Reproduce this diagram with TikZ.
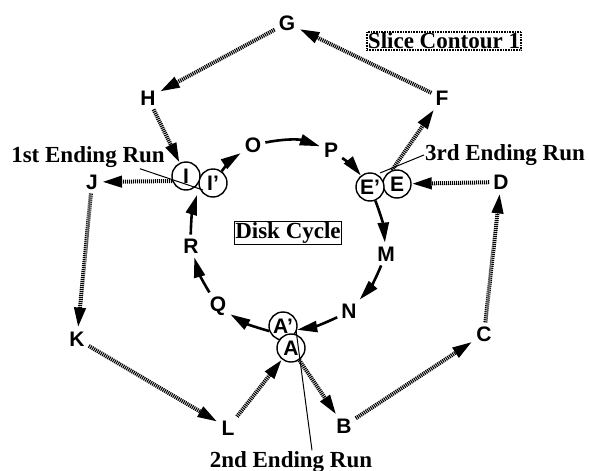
\documentclass[tikz,border=0pt]{standalone}
\usepackage{fontspec}
\setmainfont{Liberation Serif}
\newfontfamily\helvfont{Liberation Sans}
\usetikzlibrary{arrows.meta}

\begin{document}
\begin{tikzpicture}[x=1pt, y=-1pt,
    letter/.style={font=\helvfont\bfseries\fontsize{21}{25}\selectfont, inner sep=4pt},
    ringnode/.style={letter, circle, draw, line width=1.4pt, fill=white, minimum size=28pt, inner sep=0pt},
    runlabel/.style={font=\bfseries\fontsize{23}{27}\selectfont, inner sep=1pt},
    slicearrow/.style={-{Triangle[length=20pt,width=11pt]}, line width=4pt, dash pattern=on 1.1pt off 0.9pt},
    diskarrow/.style={-{Triangle[length=20pt,width=11pt]}, line width=2.6pt},
    pointer/.style={line width=1pt}]
    \useasboundingbox (0,0) rectangle (589,471);
    \node[letter] (G) at (287,23) {G};
    \node[letter] (H) at (148,98) {H};
    \node[letter] (F) at (442,98) {F};
    \node[letter] (J) at (92,182) {J};
    \node[letter] (D) at (501,182) {D};
    \node[letter] (K) at (77,339) {K};
    \node[letter] (C) at (484,334) {C};
    \node[letter] (L) at (228,428) {L};
    \node[letter] (B) at (344,426) {B};
    \node[letter] (O) at (253,145) {O};
    \node[letter] (P) at (331,150) {P};
    \node[letter] (M) at (386,254) {M};
    \node[letter] (N) at (349,311) {N};
    \node[letter] (Q) at (218,306) {Q};
    \node[letter] (R) at (191,246) {R};
    \node[ringnode] (Ip) at (213,183) {I’};
    \node[ringnode] (I) at (186,176) {I};
    \node[ringnode] (E) at (397,184) {E};
    \node[ringnode] (Ep) at (370,187) {E’};
    \node[ringnode] (Ap) at (283,326) {A’};
    \node[ringnode] (A) at (291,348) {A};
    \coordinate (Iknot) at (197,195);
    \node[runlabel, draw, line width=1pt] (disk) at (288,233) {Disk Cycle};
    \node[runlabel, draw, line width=2pt, dash pattern=on 0.8pt off 0.8pt] (slice) at (444,41) {Slice Contour 1};
    \node[runlabel] (run1) at (88,157) {1st Ending Run};
    \node[runlabel] (run3) at (505,155) {3rd Ending Run};
    \node[runlabel] (run2) at (291,462) {2nd Ending Run};
    \draw[slicearrow] (A) -- (B);
    \draw[slicearrow] (B) -- (C);
    \draw[slicearrow] (C) -- (D);
    \draw[slicearrow] (D) -- (E);
    \draw[slicearrow] (E.110) -- (F);
    \draw[slicearrow] (F) -- (G);
    \draw[slicearrow] (G) -- (H);
    \draw[slicearrow] (H) -- (I);
    \draw[slicearrow] (I.200) -- (J);
    \draw[slicearrow] (J) -- (K);
    \draw[slicearrow] (K) -- (L);
    \draw[slicearrow] (L) -- (A);
    \draw[diskarrow] (Ip) to[bend left=10] (O);
    \draw[diskarrow] (O) to[bend left=15] (P);
    \draw[diskarrow] (P) to[bend left=8] (Ep);
    \draw[diskarrow] (Ep) to[bend left=8] (M);
    \draw[diskarrow] (M) to[bend left=10] (N);
    \draw[diskarrow] (N) to[bend left=8] (Ap.-15);
    \draw[diskarrow] (Ap.200) to[bend left=8] (Q);
    \draw[diskarrow] (Q) to[bend left=8] (R);
    \draw[diskarrow] (R) to[bend left=8] (Iknot);
    \draw[pointer] ([xshift=-26pt]run1.south east) -- (203,190);
    \draw[pointer] (run3.west) -- (380,173);
    \draw[pointer] ([xshift=21pt]run2.north) -- (296,330);
\end{tikzpicture}
\end{document}
